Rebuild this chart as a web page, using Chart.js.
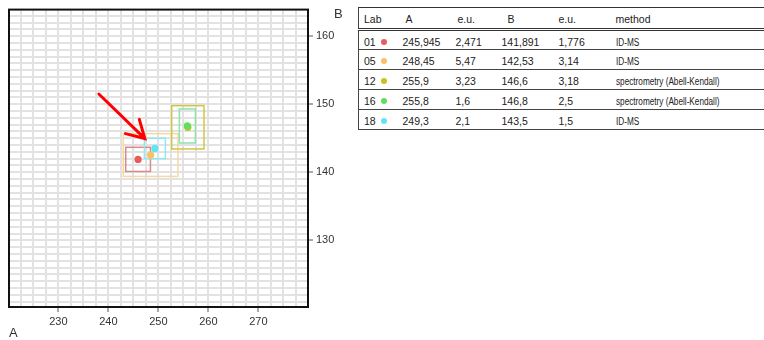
<!DOCTYPE html>
<html>
<head>
<meta charset="utf-8">
<script src="https://cdn.jsdelivr.net/npm/chart.js@4"></script>
<style>
  body { margin: 0; background: #fff; font-family: "Liberation Sans", Arial, sans-serif; overflow: hidden; }
  #wrap { position: absolute; left: 0; top: 0; width: 350px; height: 340px; }
  table { position: absolute; left: 358px; top: 7px; width: 420px; border-collapse: collapse; font-size: 10.5px; color: #222; }
  td, th { padding: 0 0 0 4px; text-align: left; font-weight: normal; white-space: nowrap; }
  th { padding-top: 2px; }
  tbody td { padding-top: 3px; }
  thead tr { height: 22px; border-top: 1px solid #333; border-bottom: 3px double #333; }
  tbody tr { height: 20px; border-bottom: 1px solid #444; }
  tr { border-left: 1px solid #444; }
  .dot { display: inline-block; width: 6px; height: 6px; border-radius: 50%; margin-left: 5px; vertical-align: 1px; }
  .narrow { display: inline-block; font-size: 10px; transform: scaleX(0.82); transform-origin: left center; }
</style>
</head>
<body>
<div id="wrap"><canvas id="chart1"></canvas></div>
<table id="tbl">
  <colgroup><col style="width:40px"><col style="width:53px"><col style="width:46px"><col style="width:57px"><col style="width:57px"><col></colgroup>
  <thead><tr><th style="padding-left:5px">Lab</th><th style="padding-left:7px">A</th><th style="padding-left:6px">e.u.</th><th style="padding-left:10px">B</th><th>e.u.</th><th>method</th></tr></thead>
  <tbody></tbody>
</table>
<script>
// data
const labs = ["01", "05", "12", "16", "18"]
const valA = [245.945, 248.45, 255.9, 255.8, 249.3]
const euA = [2.471, 5.47, 3.23, 1.6, 2.1]
const valB = [141.891, 142.53, 146.6, 146.8, 143.5]
const euB = [1.776, 3.14, 3.18, 2.5, 1.5]
const methods = ["ID-MS", "ID-MS", "spectrometry (Abell-Kendall)", "spectrometry (Abell-Kendall)", "ID-MS"]
const dotColors = ["#e85c5c", "#f7c262", "#c9c11e", "#5fe05a", "#5ee6f6"]
const boxColors = ["#d88a8a", "#f6d9a2", "#d2c643", "#8fe3a6", "#8eeaf2"]

const xTickLabels = [230, 240, 250, 260, 270]
const yTickLabels = [130, 140, 150, 160]

// the red arrow (data coordinates)
const arrowFrom = [238.1, 151.5]
const arrowTo = [247.3, 144.95]

// fill the table
const tbody = document.querySelector("#tbl tbody")
const fmt = v => String(v).replace(".", ",")
for (let i = 0; i < labs.length; i++) {
    const tr = document.createElement("tr")
    tr.innerHTML = `<td style="padding-left:5px">${labs[i]}<span class="dot" style="background:${dotColors[i]}"></span></td>` +
        `<td>${fmt(valA[i])}</td><td>${fmt(euA[i])}</td><td>${fmt(valB[i])}</td><td>${fmt(euB[i])}</td>` +
        `<td><span class="narrow">${methods[i]}</span></td>`
    tbody.appendChild(tr)
}

// boxes (value +/- e.u.), arrow, frame and axis letters
const extras = {
    id: "extras",
    beforeDatasetsDraw(chart) {
        const ctx = chart.ctx
        const xs = chart.scales.x, ys = chart.scales.y
        ctx.save()
        ctx.lineWidth = 1.5
        for (let i = 0; i < labs.length; i++) {
            const x1 = xs.getPixelForValue(valA[i] - euA[i])
            const x2 = xs.getPixelForValue(valA[i] + euA[i])
            const y1 = ys.getPixelForValue(valB[i] + euB[i])
            const y2 = ys.getPixelForValue(valB[i] - euB[i])
            ctx.strokeStyle = boxColors[i]
            ctx.strokeRect(x1, y1, x2 - x1, y2 - y1)
        }
        ctx.restore()
    },
    afterDraw(chart) {
        const ctx = chart.ctx
        const xs = chart.scales.x, ys = chart.scales.y
        const a = chart.chartArea
        ctx.save()
        // arrow
        const fx = xs.getPixelForValue(arrowFrom[0]), fy = ys.getPixelForValue(arrowFrom[1])
        const tx = xs.getPixelForValue(arrowTo[0]), ty = ys.getPixelForValue(arrowTo[1])
        const ang = Math.atan2(fy - ty, fx - tx)
        ctx.strokeStyle = "#ff0000"
        ctx.lineWidth = 3
        ctx.lineCap = "round"
        ctx.beginPath()
        ctx.moveTo(fx, fy)
        ctx.lineTo(tx, ty)
        ctx.moveTo(tx + 20 * Math.cos(ang - 0.52), ty + 20 * Math.sin(ang - 0.52))
        ctx.lineTo(tx, ty)
        ctx.lineTo(tx + 20 * Math.cos(ang + 0.52), ty + 20 * Math.sin(ang + 0.52))
        ctx.stroke()
        // frame
        ctx.strokeStyle = "#111"
        ctx.lineWidth = 2
        ctx.lineCap = "butt"
        ctx.strokeRect(a.left, a.top, a.right - a.left, a.bottom - a.top)
        // axis letters
        ctx.fillStyle = "#333"
        ctx.font = "13px 'Liberation Sans', Arial, sans-serif"
        ctx.textBaseline = "middle"
        ctx.fillText("A", 9, 333)
        ctx.fillText("B", a.right + 26, 14)
        ctx.restore()
    }
}

// later labs are drawn on top
const datasets = labs.map((lab, i) => ({
    label: lab,
    data: [{ x: valA[i], y: valB[i] }],
    backgroundColor: dotColors[i],
    borderWidth: 0,
    pointRadius: 3.6,
    order: labs.length - i
}))

const tickMark = list => c => list.includes(c.tick && c.tick.value) ? "#555" : "rgba(0,0,0,0)"

const chart = new Chart(document.getElementById("chart1"), {
    type: "scatter",
    data: { datasets },
    plugins: [extras],
    options: {
        animation: false,
        responsive: true,
        maintainAspectRatio: false,
        layout: { padding: { left: 9, top: 8, right: 0, bottom: 0 } },
        plugins: { legend: { display: false }, tooltip: { enabled: false } },
        scales: {
            x: {
                type: "linear",
                min: 220.13,
                max: 279.93,
                afterFit: s => { s.height = 33 },
                border: { display: false },
                grid: { color: "#e2e2e2", lineWidth: 2, tickLength: 5, tickWidth: 1, tickColor: tickMark(xTickLabels) },
                ticks: {
                    stepSize: 2.5,
                    includeBounds: false,
                    autoSkip: false,
                    maxRotation: 0,
                    padding: 3,
                    color: "#333",
                    font: { size: 11, family: "'Liberation Sans', Arial, sans-serif" },
                    callback: v => xTickLabels.includes(v) ? String(v) : ""
                }
            },
            y: {
                type: "linear",
                position: "right",
                min: 120.2,
                max: 163.9,
                afterFit: s => { s.width = 42 },
                border: { display: false },
                grid: { color: "#e2e2e2", lineWidth: 2, tickLength: 5, tickWidth: 1, tickColor: tickMark(yTickLabels) },
                ticks: {
                    stepSize: 1,
                    includeBounds: false,
                    autoSkip: false,
                    padding: 3,
                    color: "#333",
                    font: { size: 11, family: "'Liberation Sans', Arial, sans-serif" },
                    callback: v => yTickLabels.includes(v) ? String(v) : ""
                }
            }
        }
    }
})
</script>
</body>
</html>
